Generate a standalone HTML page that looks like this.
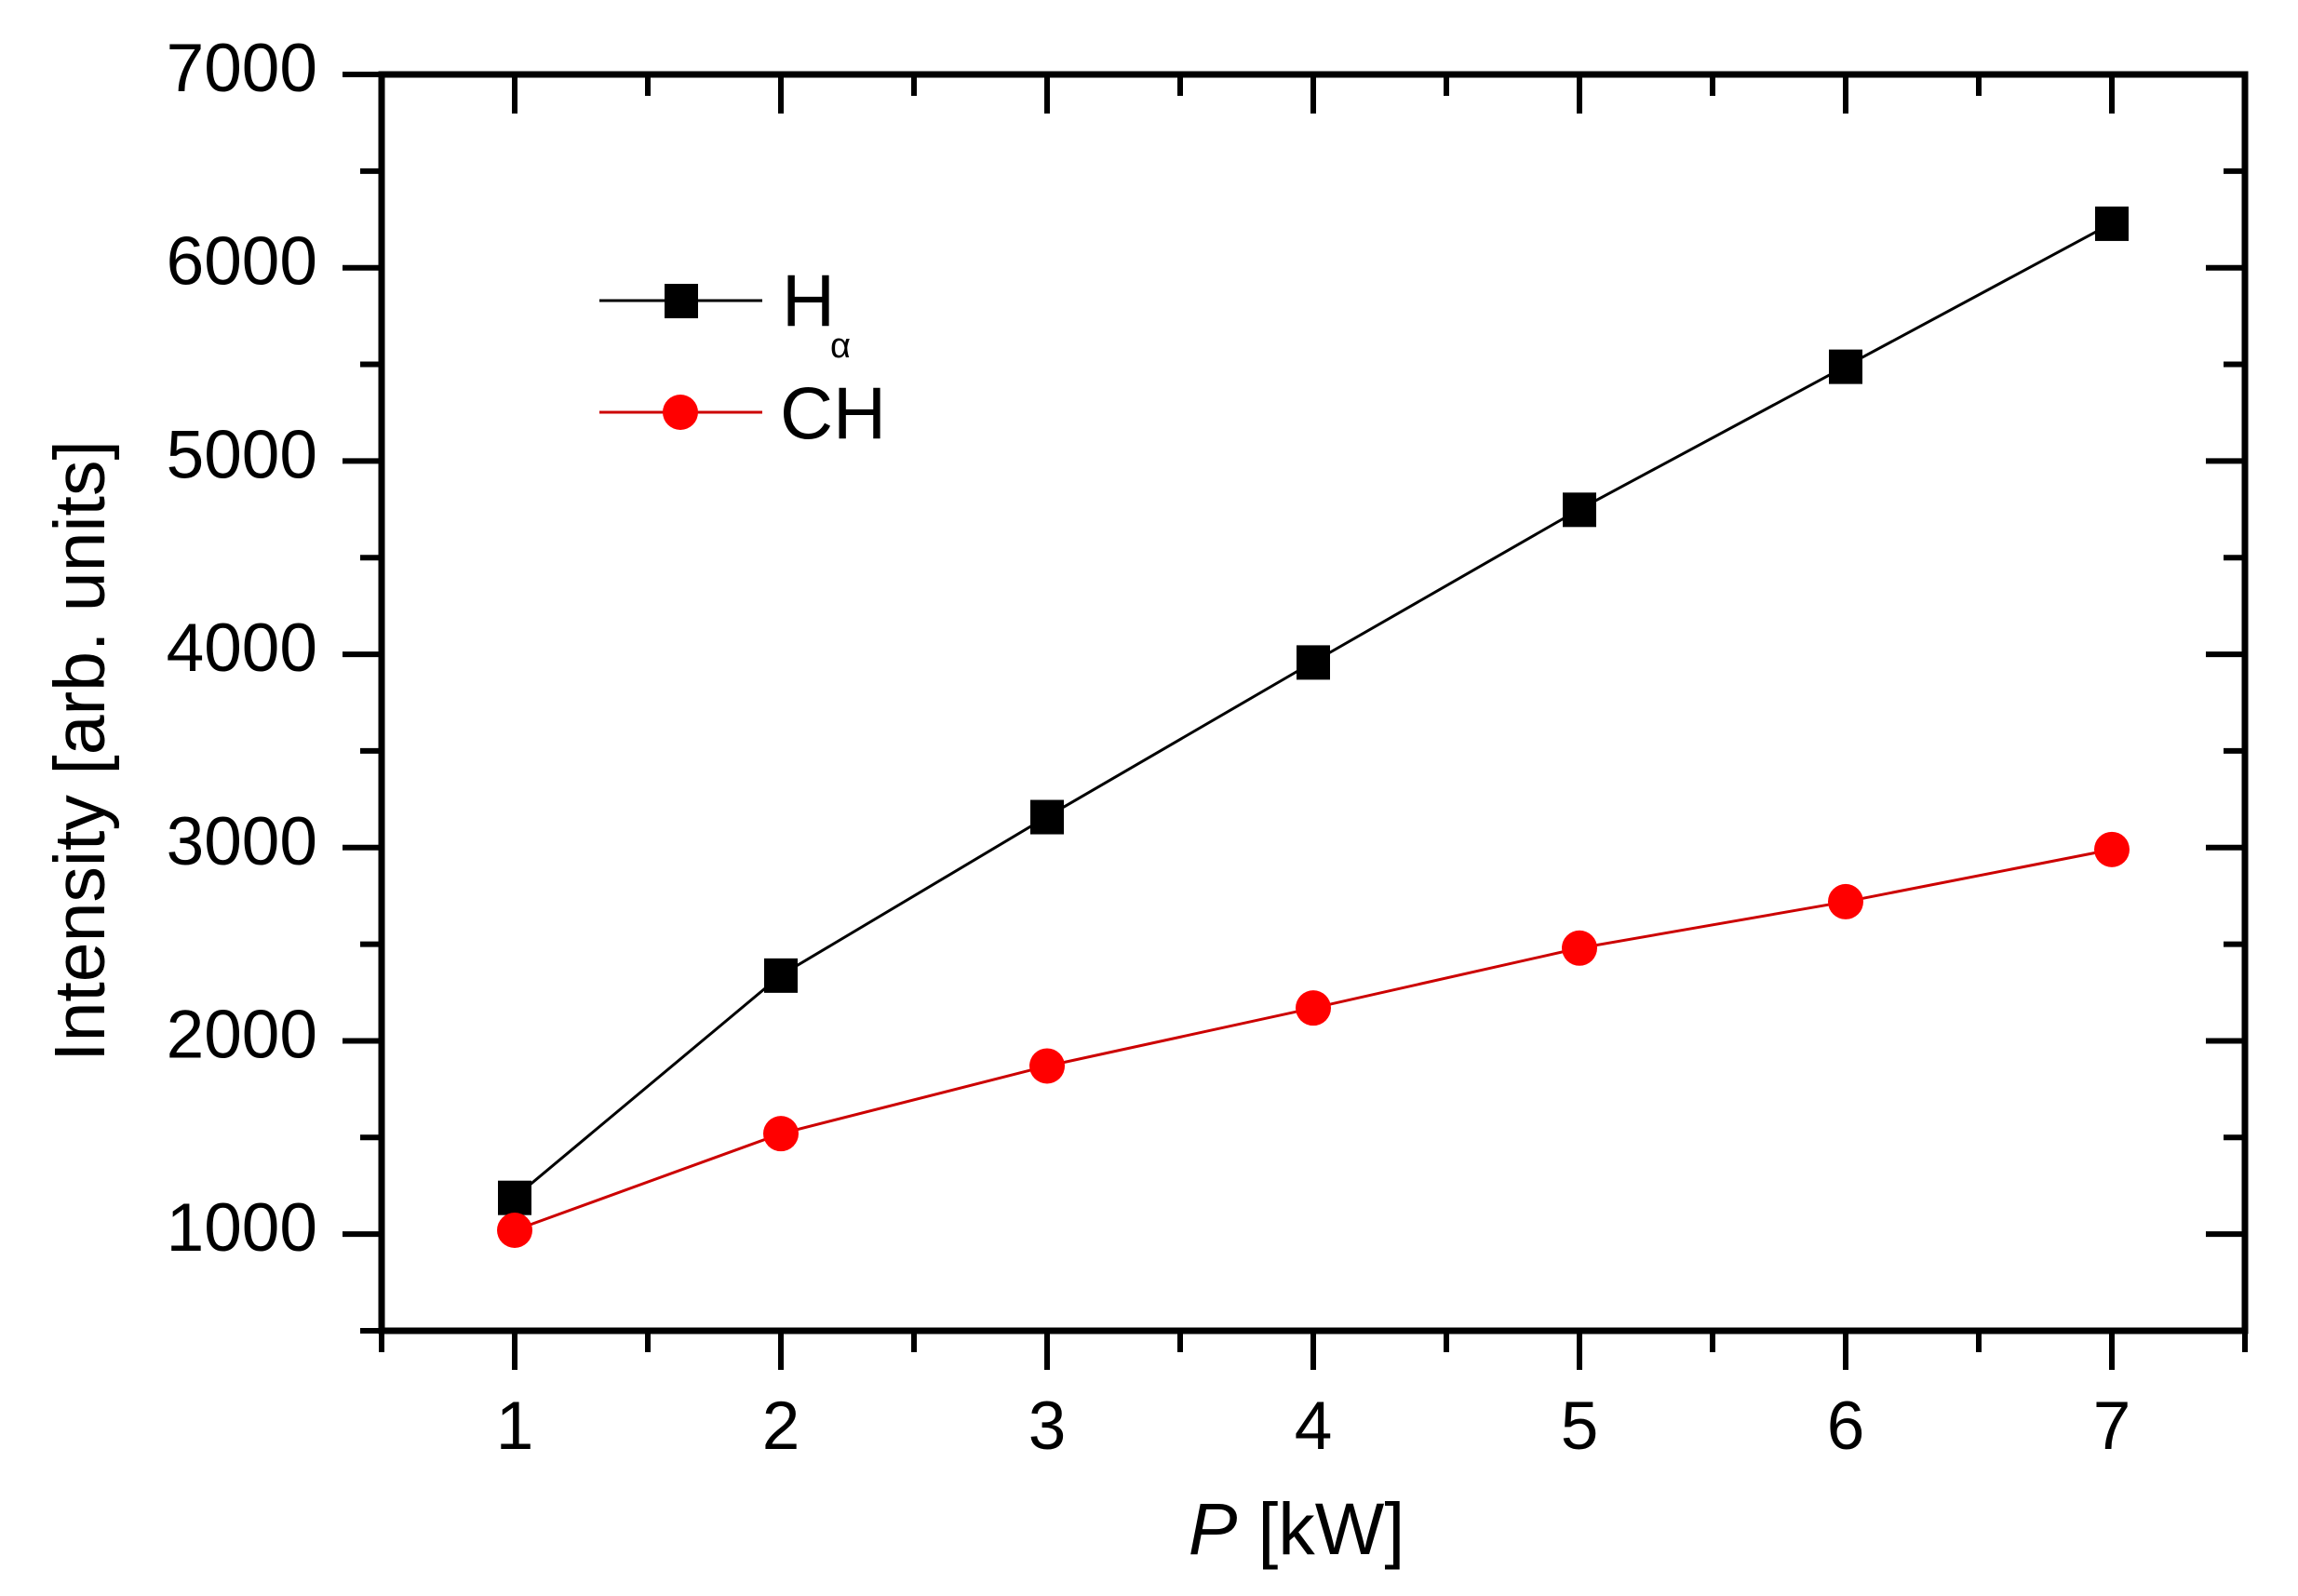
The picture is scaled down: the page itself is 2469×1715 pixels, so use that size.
<!DOCTYPE html>
<html><head><meta charset="utf-8"><style>
html,body{margin:0;padding:0;background:#fff;}
svg{display:block;font-family:"Liberation Sans",Arial,sans-serif;}
</style></head><body>
<svg id="chart" width="2469" height="1715" viewBox="0 0 2469 1715" xmlns="http://www.w3.org/2000/svg">
<rect width="2469" height="1715" fill="#fff"/>
<g id="axes"></g>
<g id="series"></g>
<text transform="translate(112,807) rotate(-90)" text-anchor="middle" font-size="77">Intensity [arb. units]</text>
<text x="1393" y="1670" text-anchor="middle" font-size="79"><tspan font-style="italic">P</tspan> [kW]</text>
<g>
  <g>
    <line x1="644" y1="323" x2="819" y2="323" stroke="#000" stroke-width="3"/>
    <rect x="714" y="305" width="36" height="37" fill="#000"/>
    <text x="840" y="350" font-size="79">H</text>
    <text x="892" y="384" font-size="38">α</text>
  </g>
  <g>
    <line x1="644" y1="443" x2="819" y2="443" stroke="#c00" stroke-width="3"/>
    <circle cx="731" cy="443" r="19" fill="#f00"/>
    <text x="838" y="471" font-size="79">CH</text>
  </g>
</g>
</svg>
<script>
const xValues = [1, 2, 3, 4, 5, 6, 7];
const hAlpha = [1190, 2340, 3160, 3960, 4750, 5490, 6230];
const chValues = [1020, 1520, 1870, 2170, 2480, 2720, 2990];
const xTickLabels = ["1", "2", "3", "4", "5", "6", "7"];
const yTickLabels = ["1000", "2000", "3000", "4000", "5000", "6000", "7000"];

const NS = "http://www.w3.org/2000/svg";
const L = 410, R = 2412, T = 80, B = 1430;
const xMin = 0.5, xMax = 7.5, yMin = 500, yMax = 7000;
function sx(v){ return L + (v - xMin) / (xMax - xMin) * (R - L); }
function sy(v){ return B - (v - yMin) / (yMax - yMin) * (B - T); }
function mk(tag, attrs, parent){ const e = document.createElementNS(NS, tag); for (const k in attrs) e.setAttribute(k, attrs[k]); parent.appendChild(e); return e; }

const axes = document.getElementById('axes');
const frame = mk('rect', {x:L, y:T, width:R-L, height:B-T, fill:'none', stroke:'#000', 'stroke-width':7}, axes);



for (let v = 0.5; v <= 7.5001; v += 0.5) {
  const major = Math.abs(v - Math.round(v)) < 1e-6;
  const len = major ? 42 : 23;
  const x = sx(v);
  const t1 = mk('line', {x1:x, y1:B, x2:x, y2:B+len, stroke:'#000', 'stroke-width':6}, axes);
  
  
  const t2 = mk('line', {x1:x, y1:T, x2:x, y2:T+len, stroke:'#000', 'stroke-width':6}, axes);
  
  
}
xValues.forEach((v, i) => {
  const t = mk('text', {x:sx(v), y:1557, 'text-anchor':'middle', 'font-size':73}, axes);
  t.textContent = xTickLabels[i];
  
  
});
for (let v = 500; v <= 7000; v += 500) {
  const major = v % 1000 === 0;
  const len = major ? 42 : 23;
  const y = sy(v);
  const t1 = mk('line', {x1:L-len, y1:y, x2:L, y2:y, stroke:'#000', 'stroke-width':6}, axes);
  
  
  const t2 = mk('line', {x1:R-len, y1:y, x2:R, y2:y, stroke:'#000', 'stroke-width':6}, axes);
  
  
}
yTickLabels.forEach((lab) => {
  const t = mk('text', {x:341, y:sy(parseFloat(lab))+18, 'text-anchor':'end', 'font-size':73}, axes);
  t.textContent = lab;
  
  
});

const series = document.getElementById('series');
function drawLine(vals, color, name){
  const pts = xValues.map((x, i) => sx(x) + ',' + sy(vals[i])).join(' ');
  const p = mk('polyline', {points:pts, fill:'none', stroke:color, 'stroke-width':3}, series);
  
  
}
drawLine(hAlpha, '#000', 'halpha-line');
drawLine(chValues, '#c00', 'ch-line');
hAlpha.forEach((v, i) => {
  const r = mk('rect', {x:sx(xValues[i])-18, y:sy(v)-18, width:36, height:37, fill:'#000'}, series);
  
  
});
chValues.forEach((v, i) => {
  const c = mk('circle', {cx:sx(xValues[i]), cy:sy(v), r:19, fill:'#f00'}, series);
  
  
});
</script>
</body></html>
